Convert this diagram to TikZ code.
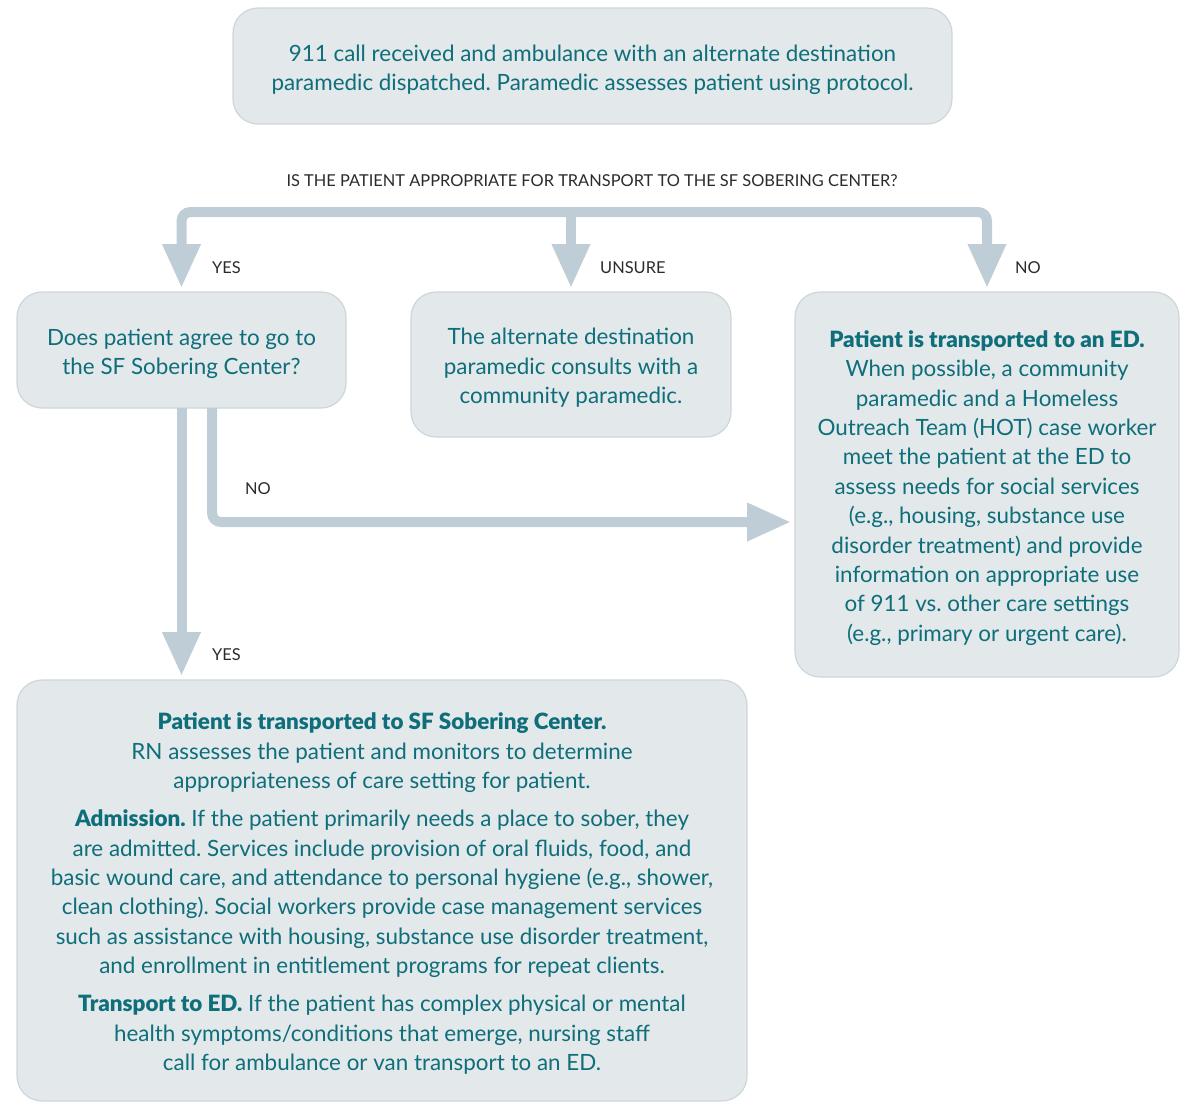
\documentclass[tikz,border=0pt]{standalone}
\usepackage{fontspec}
\setmainfont{Lato}[BoldFont={Lato Black}]
\usetikzlibrary{arrows.meta}
\definecolor{boxfill}{RGB}{227,232,235}
\definecolor{boxline}{RGB}{205,214,220}
\definecolor{flowgray}{RGB}{191,205,214}
\definecolor{tealtext}{RGB}{14,110,122}
\definecolor{lbltext}{RGB}{43,43,43}
\newcommand{\ftop}{\rule{0pt}{24pt}}
\newcommand{\fbot}{\rule[-4.5pt]{0pt}{0pt}}
\frenchspacing
\begin{document}
\begin{tikzpicture}[x=1pt,y=-1pt,
    box/.style={draw=boxline,line width=1.2pt,fill=boxfill,rounded corners=25pt,
        inner sep=0pt,outer sep=0pt,align=center,text=tealtext,
        font=\fontsize{22.4}{29.4}\selectfont},
    lbl/.style={anchor=west,text=lbltext,inner sep=0pt,font=\fontsize{16.4}{18}\selectfont},
    flow/.style={draw=flowgray,line width=10pt,rounded corners=9pt,
        -{Triangle[width=36pt,length=44pt]},shorten >=4pt}]
        \useasboundingbox (0,0) rectangle (1184,1101);
        \begin{scope}
        \clip (0,0) rectangle (1184,1101);
        \node[box,minimum width=719pt,minimum height=116pt] (call) at (592.5,66)
            {\ftop 911 call received and ambulance with an alternate destination\\
             paramedic dispatched. Paramedic assesses patient using protocol.\fbot};
        \node[box,minimum width=329pt,minimum height=116pt] (agree) at (181.5,350)
            {\ftop Does patient agree to go to\\ the SF Sobering Center?\fbot};
        \node[box,minimum width=320pt,minimum height=145pt] (consult) at (571,364.5)
            {\ftop The alternate destination\\ paramedic consults with a\\ community paramedic.\fbot};
        \node[box,minimum width=384pt,minimum height=385pt] (ed) at (987,484.5)
            {\ftop\textbf{Patient is transported to an ED.}\\
             When possible, a community\\ paramedic and a Homeless\\
             Outreach Team (HOT) case worker\\ meet the patient at the ED to\\
             assess needs for social services\\ (e.g., housing, substance use\\
             disorder treatment) and provide\\ information on appropriate use\\
             of 911 vs. other care settings\\ (e.g., primary or urgent care).\fbot};
        \node[box,minimum width=730pt,minimum height=421pt] (sobering) at (382,890.5)
            {\ftop\textbf{Patient is transported to SF Sobering Center.}\\
             RN assesses the patient and monitors to determine\\
             appropriateness of care setting for patient.\\[8.6pt]
             \textbf{Admission.} If the patient primarily needs a place to sober, they\\
             are admitted. Services include provision of oral fluids, food, and\\
             basic wound care, and attendance to personal hygiene (e.g., shower,\\
             clean clothing). Social workers provide case management services\\
             such as assistance with housing, substance use disorder treatment,\\
             and enrollment in entitlement programs for repeat clients.\\[8.6pt]
             \textbf{Transport to ED.} If the patient has complex physical or mental\\
             health symptoms/conditions that emerge, nursing staff\\
             call for ambulance or van transport to an ED.\fbot};
        \end{scope}

        \node[anchor=center,text=lbltext,inner sep=0pt,font=\fontsize{16.4}{18}\selectfont] (question) at (592,181)
            {IS THE PATIENT APPROPRIATE FOR TRANSPORT TO THE SF SOBERING CENTER?};
        \coordinate (bar) at (571,212);
        \coordinate (noout) at (212,408);
        \coordinate (noin) at (795,522);

        \draw[flow] (bar) -| (agree.north);
        \draw[flow] (bar) -| (ed.north);
        \draw[flow] (bar) -- (consult.north);
        \draw[flow] (agree.south) -- (agree.south |- sobering.north);
        \draw[flow] (noout) |- (noin);

        \node[lbl] (yes1) at (212,268) {YES};
        \node[lbl] (unsure) at (600,268) {UNSURE};
        \node[lbl] (no1) at (1015,268) {NO};
        \node[lbl] (no2) at (245,489) {NO};
        \node[lbl] (yes2) at (212,655) {YES};
\end{tikzpicture}
\end{document}
